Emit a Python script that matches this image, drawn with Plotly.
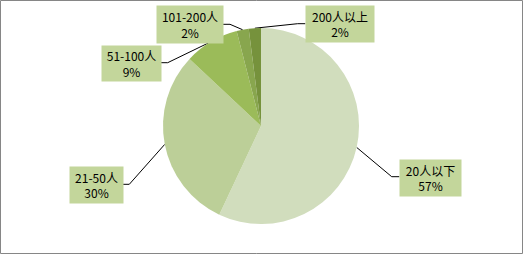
import math
import plotly.graph_objects as go

categories = ["20人以下", "21-50人", "51-100人", "101-200人", "200人以上"]
values = [57, 30, 9, 2, 2]
pct_labels = ["57%", "30%", "9%", "2%", "2%"]
colors = ["#D1DDBD", "#BCCF98", "#9BBB59", "#88A64E", "#76923C"]

W, H = 523, 254
CX, CY, R = 261, 126, 98

# label box layout (pixel centres, sizes) and leader elbow points
box_pos = [(430, 177.5), (96.5, 184.5), (131.5, 63.5), (190, 24.5), (339.5, 24)]
box_size = [(61, 36), (53, 36), (59, 35), (66, 37), (68, 36)]
elbows = [(391.7, 176.7), (129.3, 184.3), (167.7, 62.7), (230, 24.3), (297.7, 23.7)]
box_edge_x = [399.3, 123, 161, 222.7, 305.3]

fig = go.Figure(go.Pie(
    labels=categories, values=values, sort=False, direction="clockwise",
    rotation=0, textinfo="none", hoverinfo="label+percent",
    marker=dict(colors=colors, line=dict(width=0)),
    domain=dict(x=[(CX - R) / W, (CX + R) / W], y=[1 - (CY + R) / H, 1 - (CY - R) / H]),
    showlegend=False,
))

def px(x):
    return x / W

def py(y):
    return 1 - y / H

total = sum(values)
cum = 0
shapes = []
annotations = []
for i, v in enumerate(values):
    mid = (cum + v / 2) / total * 2 * math.pi
    cum += v
    ex = CX + R * math.sin(mid)
    ey = CY - R * math.cos(mid)
    elx, ely = elbows[i]
    path = f"M {px(ex)},{py(ey)} L {px(elx)},{py(ely)} L {px(box_edge_x[i])},{py(ely)}"
    shapes.append(dict(type="path", xref="paper", yref="paper", path=path,
                       line=dict(color="#000000", width=1), layer="below"))
    bx, by = box_pos[i]
    bw, bh = box_size[i]
    annotations.append(dict(
        x=px(bx), y=py(by), xref="paper", yref="paper", showarrow=False,
        text=f"{categories[i]}<br>{pct_labels[i]}", align="center",
        width=bw, height=bh, bgcolor="#C3D69B", borderpad=0,
        xanchor="center", yanchor="middle",
        font=dict(family="Noto Sans CJK SC, Liberation Sans, sans-serif", size=12, color="#000000"),
    ))

shapes.append(dict(type="rect", xref="paper", yref="paper",
                   x0=0.5 / W, x1=1 - 0.5 / W, y0=0.5 / H, y1=1 - 0.5 / H,
                   line=dict(color="#868686", width=1)))

fig.update_layout(
    width=W, height=H, margin=dict(l=0, r=0, t=0, b=0),
    paper_bgcolor="white", plot_bgcolor="white",
    shapes=shapes, annotations=annotations,
)

fig.write_html("out.html")
